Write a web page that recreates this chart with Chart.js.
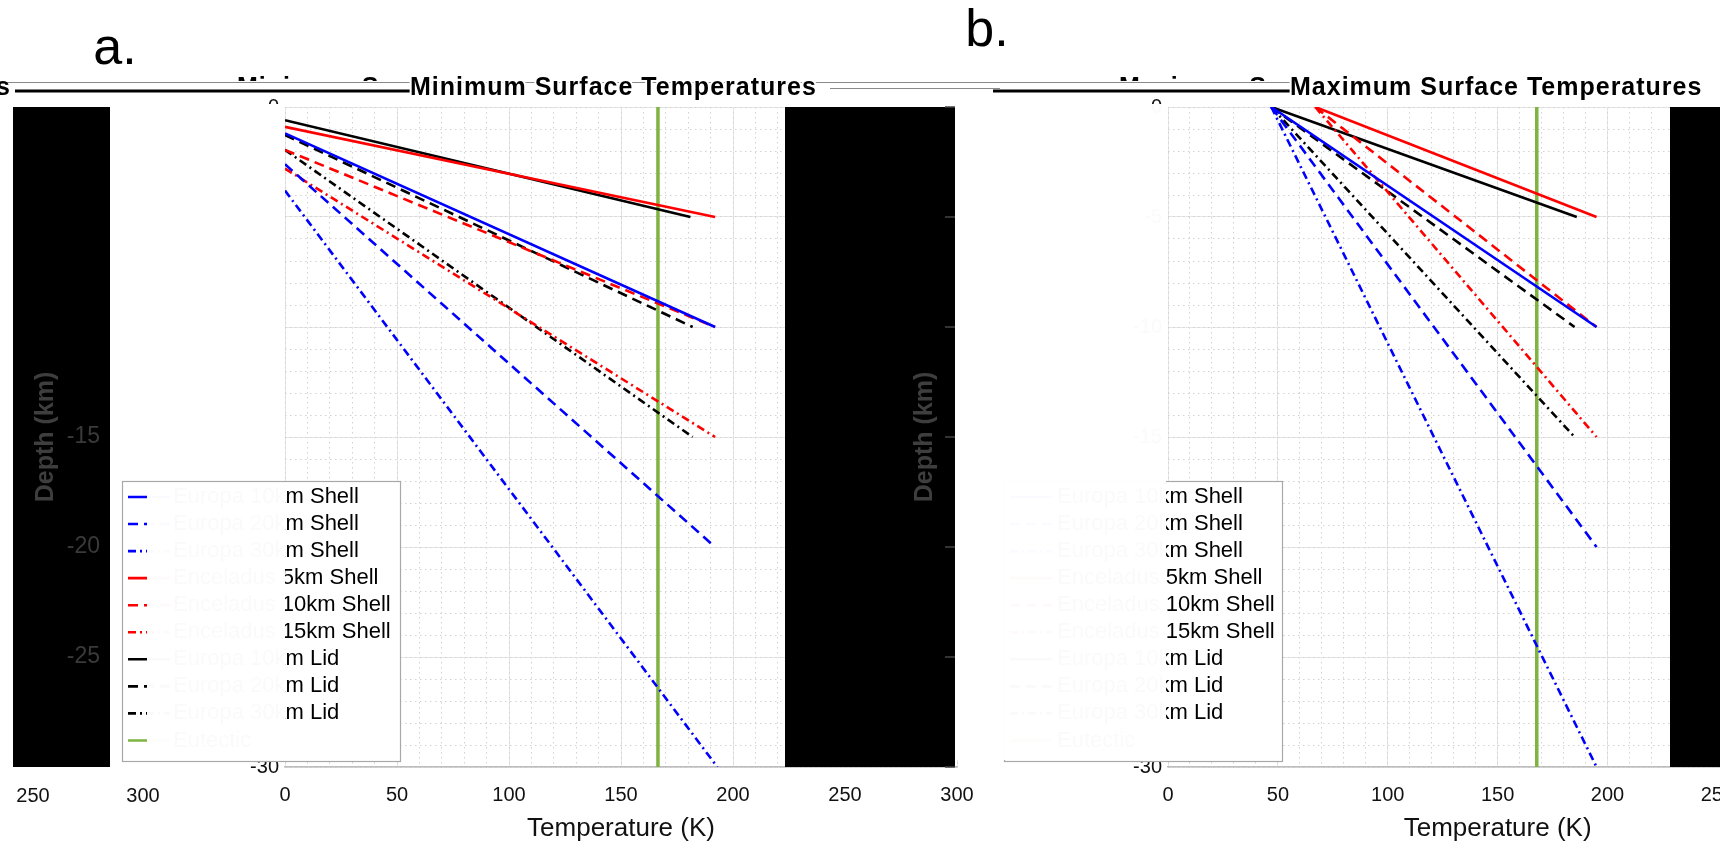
<!DOCTYPE html>
<html>
<head>
<meta charset="utf-8">
<script src="https://cdn.jsdelivr.net/npm/chart.js@4.4.0/dist/chart.umd.min.js"></script>
<style>
html, body { margin: 0; padding: 0; background: #fff; overflow: hidden; width: 1720px; height: 844px; }
canvas { position: absolute; top: 0; }
#chartA { left: 0; }
#chartB { left: 860px; }
</style>
</head>
<body>
<canvas id="chartA" width="1000" height="844"></canvas>
<canvas id="chartB" width="1000" height="844"></canvas>
<script>
// Series shown in both panels (legend order)
const seriesNames = [
    "Europa 10km Shell", "Europa 20km Shell", "Europa 30km Shell",
    "Enceladus 5km Shell", "Enceladus 10km Shell", "Enceladus 15km Shell",
    "Europa 10km Lid", "Europa 20km Lid", "Europa 30km Lid",
    "Eutectic"
];
const seriesColors = ["#0000ff", "#0000ff", "#0000ff", "#ff0000", "#ff0000", "#ff0000", "#000000", "#000000", "#000000", "#7fb342"];
const seriesStyles = ["solid", "dash", "dashdot", "solid", "dash", "dashdot", "solid", "dash", "dashdot", "solid"];

// a. Minimum surface temperatures: each profile is a straight segment (temperature K, depth km)
const minStartTemp  = [0, 0, 0, 0, 0, 0, 0, 0, 0, 166.5];
const minStartDepth = [-1.2, -2.6, -3.8, -0.9, -1.95, -2.8, -0.6, -1.27, -1.95, 0];
const minEndTemp    = [192, 192, 193, 192, 192, 192, 181, 182, 182, 166.5];
const minEndDepth   = [-10, -20, -30, -5, -10, -15, -5, -10, -15, -30];

// b. Maximum surface temperatures
const maxStartTemp  = [47, 47, 47, 67, 67, 67, 47, 47, 47, 167.8];
const maxStartDepth = [0, 0, 0, 0, 0, 0, 0, 0, 0, 0];
const maxEndTemp    = [195, 195, 195, 195, 195, 195, 186, 185, 185, 167.8];
const maxEndDepth   = [-10, -20, -30, -5, -10, -15, -5, -10, -15, -30];

// Axis ticks
const tempTicks = [0, 50, 100, 150, 200, 250, 300];
const depthTicks = [0, -5, -10, -15, -20, -25, -30];

const FONT = '"Liberation Sans", Arial, Helvetica, sans-serif';
const dashStyles = { solid: [], dash: [10, 6], dashdot: [8, 4, 2, 4] };

// Layout of each panel in page pixels
const layoutA = {
    offset: 0, left: 285, right: 957, top: 107, bottom: 767, gridShift: 22,
    legend: { left: 122, right: 400, top: 481, bottom: 761, sample0: 128, sample1: 170, textX: 173, row0: 497, step: 27.05 }
};
const layoutB = {
    offset: 860, left: 1168, right: 1829.5, top: 107, bottom: 767, gridShift: 21,
    legend: { left: 1004, right: 1282, top: 481, bottom: 761, sample0: 1010, sample1: 1052, textX: 1057, row0: 497, step: 27.05 }
};

function buildDatasets(st, sd, et, ed) {
    return seriesNames.map((name, i) => ({
        label: name,
        data: [{ x: st[i], y: sd[i] }, { x: et[i], y: ed[i] }],
        borderColor: seriesColors[i],
        borderWidth: i === 9 ? 3.5 : 2.6,
        borderDash: dashStyles[seriesStyles[i]],
        pointRadius: 0,
        fill: false,
        tension: 0,
        xAxisID: 'x',
        yAxisID: 'y'
    }));
}

function makeScales(L, canvasH) {
    const tmax = tempTicks[tempTicks.length - 1];
    return {
        x: {
            type: 'linear', position: 'bottom', min: tempTicks[0], max: tmax,
            afterBuildTicks: s => { s.ticks = tempTicks.map(v => ({ value: v })); },
            ticks: { font: { size: 20, family: FONT }, color: '#111', padding: 16, maxRotation: 0, autoSkip: false },
            grid: { display: false, drawTicks: false },
            border: { display: true, color: '#bdbdbd', width: 1.5 },
            title: { display: true, text: 'Temperature (K)', font: { size: 26, family: FONT }, color: '#111', padding: { top: 0, bottom: 0 } },
            afterFit: s => { s.height = canvasH - L.bottom; }
        },
        xg: {
            type: 'linear', position: 'bottom', min: -L.gridShift, max: tmax - L.gridShift,
            ticks: { display: false, stepSize: 50 },
            grid: { color: '#e6e6e6', drawTicks: false },
            border: { display: false },
            afterFit: s => { s.height = 0; }
        },
        xm: {
            type: 'linear', position: 'bottom', min: -L.gridShift, max: tmax - L.gridShift,
            ticks: { display: false, stepSize: 10 },
            grid: { color: '#d2d2d2', drawTicks: false },
            border: { display: false, dash: [1.5, 3.5] },
            afterFit: s => { s.height = 0; }
        },
        y: {
            type: 'linear', position: 'left', min: -30, max: 0,
            afterBuildTicks: s => { s.ticks = depthTicks.map(v => ({ value: v })); },
            ticks: { font: { size: 20, family: FONT }, color: '#111', padding: 6 },
            grid: { color: '#e6e6e6', drawTicks: false },
            border: { display: false },
            afterFit: s => { s.width = L.left - L.offset; }
        },
        ym: {
            type: 'linear', position: 'left', min: -30, max: 0,
            ticks: { display: false, stepSize: 1 },
            grid: { color: '#d2d2d2', drawTicks: false },
            border: { display: false, dash: [1.5, 3.5] },
            afterFit: s => { s.width = 0; }
        }
    };
}

// Legend drawn from the chart's own datasets
function drawLegend(ctx, chart, lg) {
    ctx.fillStyle = '#fff';
    ctx.fillRect(lg.left, lg.top, lg.right - lg.left, lg.bottom - lg.top);
    ctx.strokeStyle = '#a8a8a8';
    ctx.lineWidth = 1.2;
    ctx.setLineDash([]);
    ctx.strokeRect(lg.left + 0.5, lg.top + 0.5, lg.right - lg.left, lg.bottom - lg.top);
    chart.data.datasets.forEach((d, i) => {
        const y = lg.row0 + i * lg.step;
        ctx.strokeStyle = d.borderColor;
        ctx.lineWidth = 2.6;
        ctx.setLineDash(d.borderDash || []);
        ctx.beginPath();
        ctx.moveTo(lg.sample0, y);
        ctx.lineTo(lg.sample1, y);
        ctx.stroke();
        ctx.setLineDash([]);
        ctx.fillStyle = '#000';
        ctx.font = '22px ' + FONT;
        ctx.textAlign = 'left';
        ctx.textBaseline = 'middle';
        ctx.fillText(d.label, lg.textX, y);
    });
}

function hline(ctx, x0, x1, y, w, color) {
    ctx.strokeStyle = color;
    ctx.lineWidth = w;
    ctx.setLineDash([]);
    ctx.beginPath();
    ctx.moveTo(x0, y);
    ctx.lineTo(x1, y);
    ctx.stroke();
}

function titleText(ctx, text, x) {
    ctx.font = 'bold 25px ' + FONT;
    ctx.letterSpacing = '1px';
    ctx.textAlign = 'left';
    ctx.textBaseline = 'alphabetic';
    ctx.lineWidth = 4;
    ctx.strokeStyle = '#fff';
    ctx.strokeText(text, x, 95);
    ctx.fillStyle = '#000';
    ctx.fillText(text, x, 95);
    ctx.letterSpacing = '0px';
}

function ghostTitle(ctx, text, x, clipRight) {
    ctx.save();
    ctx.beginPath();
    ctx.rect(x, 68, clipRight - x, 13);
    ctx.clip();
    ctx.font = 'bold 25px ' + FONT;
    ctx.letterSpacing = '1px';
    ctx.fillStyle = '#000';
    ctx.textAlign = 'left';
    ctx.textBaseline = 'alphabetic';
    ctx.fillText(text, x, 95);
    ctx.letterSpacing = '0px';
    ctx.restore();
}

function grayDepthLabel(ctx, x, y) {
    ctx.save();
    ctx.translate(x, y);
    ctx.rotate(-Math.PI / 2);
    ctx.font = 'bold 25px ' + FONT;
    ctx.fillStyle = '#3e3e3e';
    ctx.textAlign = 'center';
    ctx.textBaseline = 'middle';
    ctx.fillText('Depth (km)', 0, 0);
    ctx.restore();
}

const overlayA = {
    id: 'overlayA',
    afterDraw(chart) {
        const ctx = chart.ctx;
        const ys = chart.scales.y;
        ctx.save();
        // black blocks
        ctx.fillStyle = '#000';
        ctx.fillRect(13, 107, 97, 660);
        ctx.fillRect(785, 107, 170, 660);
        // ghost axis on the left block
        grayDepthLabel(ctx, 46, 437);
        ctx.font = '23px ' + FONT;
        ctx.fillStyle = '#3a3a3a';
        ctx.textAlign = 'right';
        ctx.textBaseline = 'middle';
        depthTicks.slice(3, 6).forEach(v => ctx.fillText(String(v), 100, ys.getPixelForValue(v)));
        // white band hiding the tick labels
        ctx.fillStyle = '#fff';
        ctx.fillRect(110, 104, 175, 656);
        // legend and its washed-out text
        drawLegend(ctx, chart, layoutA.legend);
        ctx.fillStyle = 'rgba(255,255,255,0.98)';
        ctx.fillRect(147, 483, 138, 276);
        // stray tick labels under the left block
        ctx.font = '20px ' + FONT;
        ctx.fillStyle = '#111';
        ctx.textAlign = 'center';
        ctx.textBaseline = 'middle';
        ctx.fillText(String(tempTicks[5]), 33, 796);
        ctx.fillText(String(tempTicks[6]), 143, 796);
        // title strip
        hline(ctx, 0, 1000, 82.5, 1, '#8a8a8a');
        hline(ctx, 15, 410, 91, 3, '#000');
        hline(ctx, 830, 1000, 88.5, 1, '#8a8a8a');
        ghostTitle(ctx, 'Minimum Surface Temperatures', 237, 405);
        titleText(ctx, 'Minimum Surface Temperatures', 410);
        ctx.font = 'bold 25px ' + FONT;
        ctx.fillStyle = '#000';
        ctx.textAlign = 'left';
        ctx.fillText('s', -4, 95);
        // panel letter
        ctx.font = '52px ' + FONT;
        ctx.textAlign = 'center';
        ctx.textBaseline = 'alphabetic';
        ctx.fillText('a.', 115, 64);
        ctx.restore();
    }
};

const overlayB = {
    id: 'overlayB',
    afterDraw(chart) {
        const ctx = chart.ctx;
        const ys = chart.scales.y;
        ctx.save();
        ctx.translate(-layoutB.offset, 0);
        ctx.fillStyle = '#000';
        ctx.fillRect(1670, 107, 200, 660);
        // ghost axis on panel a's right block
        grayDepthLabel(ctx, 925, 437);
        ctx.strokeStyle = '#444';
        ctx.lineWidth = 1.5;
        depthTicks.forEach(v => {
            const y = ys.getPixelForValue(v);
            ctx.beginPath();
            ctx.moveTo(945, y);
            ctx.lineTo(955, y);
            ctx.stroke();
        });
        drawLegend(ctx, chart, layoutB.legend);
        ctx.fillStyle = 'rgba(255,255,255,0.98)';
        ctx.fillRect(955, 104, 211, 656);
        // title strip
        hline(ctx, 955, 1290, 82.5, 1, '#8a8a8a');
        hline(ctx, 955, 993, 88.5, 1, '#8a8a8a');
        hline(ctx, 993, 1290, 91, 3, '#000');
        ghostTitle(ctx, 'Maximum Surface Temperatures', 1119, 1285);
        titleText(ctx, 'Maximum Surface Temperatures', 1290);
        ctx.font = '52px ' + FONT;
        ctx.fillStyle = '#000';
        ctx.textAlign = 'center';
        ctx.textBaseline = 'alphabetic';
        ctx.fillText('b.', 987, 46);
        ctx.restore();
    }
};

function makeChart(id, L, datasets, plugin) {
    const canvas = document.getElementById(id);
    return new Chart(canvas.getContext('2d'), {
        type: 'line',
        data: { datasets: datasets },
        options: {
            responsive: false,
            animation: false,
            layout: { padding: { left: 0, top: L.top, right: L.offset + canvas.width - L.right, bottom: 0 } },
            plugins: { legend: { display: false }, tooltip: { enabled: false }, title: { display: false } },
            scales: makeScales(L, canvas.height)
        },
        plugins: [plugin]
    });
}

makeChart('chartA', layoutA, buildDatasets(minStartTemp, minStartDepth, minEndTemp, minEndDepth), overlayA);
makeChart('chartB', layoutB, buildDatasets(maxStartTemp, maxStartDepth, maxEndTemp, maxEndDepth), overlayB);
</script>
</body>
</html>
